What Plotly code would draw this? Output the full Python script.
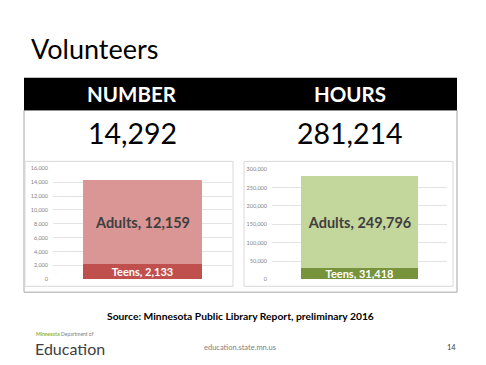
import plotly.graph_objects as go

# ---- data ----
panels = ["NUMBER", "HOURS"]
totals = ["14,292", "281,214"]
groups = ["Adults", "Teens"]
number_values = {"Teens": 2133, "Adults": 12159}
hours_values = {"Teens": 31418, "Adults": 249796}
number_ticks = [0, 2000, 4000, 6000, 8000, 10000, 12000, 14000, 16000]
hours_ticks = [0, 50000, 100000, 150000, 200000, 250000, 300000]

W, H = 486, 365
def px(x): return x / W
def py(y): return 1 - y / H

FONT = "Lato"
fig = go.Figure()

colors = {
    "x": {"Adults": "#D99694", "Teens": "#C0504D"},
    "x2": {"Adults": "#C3D69B", "Teens": "#77933C"},
}

for xa, ya, vals in [("x", "y", number_values), ("x2", "y2", hours_values)]:
    for g in ["Teens", "Adults"]:
        v = vals[g]
        fig.add_trace(go.Bar(
            x=["cat"], y=[v], xaxis=xa, yaxis=ya,
            marker=dict(color=colors[xa][g], line=dict(width=0)),
            width=0.665,
            text=[f"{g}, {v:,}"],
            textposition="inside", insidetextanchor="middle",
            constraintext="none",
            textfont=dict(family=FONT, size=14.5 if g == "Adults" else 11,
                          color="#3F3F3F" if g == "Adults" else "#FFFFFF",
                          weight="bold"),
            showlegend=False, hoverinfo="skip",
        ))

tickfont = dict(family=FONT, size=5.5, color="#7F7F7F")
fig.update_layout(
    width=W, height=H, margin=dict(l=0, r=0, t=0, b=0),
    paper_bgcolor="white", plot_bgcolor="white",
    barmode="stack", bargap=0,
    xaxis=dict(domain=[px(53), px(232)], range=[-0.5, 0.5], showticklabels=False,
               showgrid=False, zeroline=False, fixedrange=True),
    yaxis=dict(domain=[py(281), py(168)], range=[0, 16000], tickvals=number_ticks,
               tickformat=",d", tickfont=tickfont, showgrid=True, gridcolor="#E3E3E3",
               gridwidth=1, zeroline=False, ticks="", ticklabelstandoff=4),
    xaxis2=dict(domain=[px(272), px(447)], range=[-0.5, 0.5], showticklabels=False,
                showgrid=False, zeroline=False, fixedrange=True, anchor="y2"),
    yaxis2=dict(domain=[py(281), py(169)], range=[0, 300000], tickvals=hours_ticks,
                tickformat=",d", tickfont=tickfont, showgrid=True, gridcolor="#E3E3E3",
                gridwidth=1, zeroline=False, ticks="", anchor="x2", ticklabelstandoff=4),
)

shapes = [
    dict(type="rect", xref="paper", yref="paper", x0=px(24), x1=px(457), y0=py(294), y1=py(109),
         line=dict(color="#A6A6A6", width=1), fillcolor="rgba(0,0,0,0)", layer="below"),
    dict(type="rect", xref="paper", yref="paper", x0=px(24), x1=px(457), y0=py(109), y1=py(76),
         line=dict(width=0), fillcolor="#000000"),
    dict(type="rect", xref="paper", yref="paper", x0=px(25), x1=px(233), y0=py(288), y1=py(161),
         line=dict(color="#D9D9D9", width=1), fillcolor="rgba(0,0,0,0)", layer="below"),
    dict(type="rect", xref="paper", yref="paper", x0=px(244), x1=px(453), y0=py(288), y1=py(161),
         line=dict(color="#D9D9D9", width=1), fillcolor="rgba(0,0,0,0)", layer="below"),
]
fig.update_layout(shapes=shapes)

ann = []
ann.append(dict(text="Volunteers", x=px(29), y=py(46), xanchor="left", yanchor="middle",
                font=dict(family=FONT, size=27, color="#000000")))
for cx, lab, tot in zip([132, 350], panels, totals):
    ann.append(dict(text=f"<b>{lab}</b>", x=px(cx), y=py(93), xanchor="center", yanchor="middle",
                    font=dict(family=FONT, size=20.5, color="#FFFFFF")))
    ann.append(dict(text=tot, x=px(cx), y=py(132), xanchor="center", yanchor="middle",
                    font=dict(family=FONT, size=28.5, color="#000000")))
ann.append(dict(text="<b>Source: Minnesota Public Library Report, preliminary 2016</b>",
                x=px(240), y=py(318), xanchor="center", yanchor="middle",
                font=dict(family=FONT, size=10.3, color="#000000")))
ann.append(dict(text="education.state.mn.us", x=px(240), y=py(350), xanchor="center", yanchor="middle",
                font=dict(family=FONT, size=7.5, color="#808080")))
ann.append(dict(text="14", x=px(458), y=py(350), xanchor="right", yanchor="middle",
                font=dict(family=FONT, size=7.5, color="#404040")))
ann.append(dict(text="<span style='color:#8DB63C'><b>Minnesota</b></span> Department of",
                x=px(34), y=py(337), xanchor="left", yanchor="middle",
                font=dict(family=FONT, size=5, color="#808080")))
ann.append(dict(text="Education", x=px(33), y=py(351), xanchor="left", yanchor="middle",
                font=dict(family=FONT, size=16, color="#404040")))
for a in ann:
    a.update(xref="paper", yref="paper", showarrow=False)
fig.update_layout(annotations=ann)

fig.write_html("out.html", config={"displayModeBar": False})
with open("out.html", encoding="utf-8") as f:
    html = f.read()
html = html.replace("<head>", "<head><style>html,body{margin:0;padding:0;overflow:hidden}</style>", 1)
with open("out.html", "w", encoding="utf-8") as f:
    f.write(html)
